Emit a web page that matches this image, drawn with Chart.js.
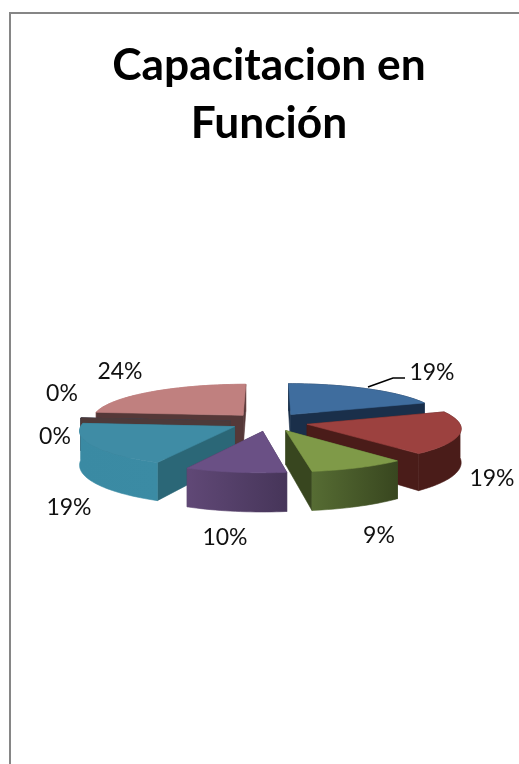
<!DOCTYPE html>
<html>
<head>
<meta charset="utf-8">
<title>Capacitacion en Función</title>
<script src="https://cdn.jsdelivr.net/npm/chart.js@4"></script>
<style>
  html, body { margin: 0; padding: 0; background: #fff; overflow: hidden; }
  #wrap { position: relative; width: 519px; height: 764px; }
  #frame { position: absolute; left: 9px; top: 12px; right: 0; bottom: 0; border-left: 2px solid #868686; border-top: 2px solid #868686; }
  #mychart { position: absolute; left: 0; top: 0; }
</style>
</head>
<body>
<div id="wrap">
  <div id="frame"></div>
  <canvas id="mychart" width="519" height="764"></canvas>
</div>
<script>
var titleLines = ['Capacitacion en', 'Función']
var categories = ['1', '2', '3', '4', '5', '6', '7', '8']
var values = [19.3, 19.2, 9.2, 9.6, 19.1, 0, 0, 23.6]

// colores: cara superior, pared radial, pared exterior (izq, der)
var topColors = ['#3F6D9E', '#9C413F', '#7F9A48', '#6A5085', '#3F8CA5', '#34455F', '#4D3A3A', '#C0807F']
var wallColors = ['#1A2F4A', '#4A1C19', '#38461F', '#463559', '#2B6777', '#34455F', '#4D3A3A', '#553838']
var sideLeft = ['#1A2F4A', '#4A1C19', '#566C33', '#604876', '#3A8AA3', '#34455F', '#4D3A3A', '#C0807F']
var sideRight = ['#1A2F4A', '#4A1C19', '#38461F', '#463559', '#3B8BA4', '#34455F', '#4D3A3A', '#C0807F']

// centro de cada etiqueta
var labelPos = [[432, 373], [492, 479], [379, 536], [225, 538], [69, 508], [55, 437], [62, 394], [120, 372]]
var leaderLine = [[368, 387], [393, 378], [405, 378]]

var squash = 36 / 152
var persp = 0.1

function project(el, u, v) {
    var R = el.outerRadius
    var s = 1 + persp * v
    return [el.x + R * u * s, el.y + R * squash * v * s]
}

function depth(v) {
    return 33 * (1 + 0.15 * v)
}

function poly(ctx, pts, fill) {
    ctx.fillStyle = fill
    ctx.strokeStyle = fill
    ctx.lineWidth = 0.6
    ctx.beginPath()
    pts.forEach(function (p, i) {
        if (i === 0) ctx.moveTo(p[0], p[1])
        else ctx.lineTo(p[0], p[1])
    })
    ctx.closePath()
    ctx.fill()
    ctx.stroke()
}

function band(el, pts) {
    var up = pts.map(function (p) { return project(el, p[0], p[1]) })
    var down = pts.map(function (p, k) { return [up[k][0], up[k][1] + depth(p[1])] })
    return up.concat(down.reverse())
}

function drawSlice(ctx, el, i) {
    var R = el.outerRadius
    var e = el.options.offset / R
    var mid = (el.startAngle + el.endAngle) / 2
    var cu = Math.cos(mid) * e
    var cv = Math.sin(mid) * e
    var apex = [cu, cv]
    var steps = Math.max(1, Math.round((el.endAngle - el.startAngle) / 0.03))
    var rim = []
    var back = []
    var front = []
    for (var k = 0; k <= steps; k++) {
        var a = el.startAngle + (el.endAngle - el.startAngle) * k / steps
        var p = [cu + Math.cos(a), cv + Math.sin(a)]
        rim.push(p)
        if (Math.sin(a) >= 0) front.push(p)
        else back.push(p)
    }

    var xs = rim.map(function (p) { return project(el, p[0], p[1])[0] })
    var grad = ctx.createLinearGradient(Math.min.apply(null, xs), 0, Math.max.apply(null, xs) + 1, 0)
    grad.addColorStop(0, sideLeft[i])
    grad.addColorStop(1, sideRight[i])

    // primero lo de atras, despues las paredes radiales, al final el frente
    if (back.length > 1 && el.endAngle > el.startAngle) poly(ctx, band(el, back), grad)
    var first = [apex, rim[0]]
    var last = [apex, rim[rim.length - 1]]
    if (Math.sin(el.startAngle) > Math.sin(el.endAngle)) {
        poly(ctx, band(el, last), wallColors[i])
        poly(ctx, band(el, first), wallColors[i])
    } else {
        poly(ctx, band(el, first), wallColors[i])
        poly(ctx, band(el, last), wallColors[i])
    }
    if (front.length > 1) poly(ctx, band(el, front), grad)

    var top = [project(el, cu, cv)].concat(rim.map(function (p) { return project(el, p[0], p[1]) }))
    poly(ctx, top, el.options.backgroundColor)
}

// dibuja la torta en 3D a partir de los arcos que calcula Chart.js
var pie3d = {
    id: 'pie3d',
    beforeDatasetDraw: function () { return false },
    afterDatasetsDraw: function (chart) {
        var ctx = chart.ctx
        var arcs = chart.getDatasetMeta(0).data
        var order = arcs.map(function (el, i) { return i })
        order.sort(function (a, b) {
            var ma = (arcs[a].startAngle + arcs[a].endAngle) / 2
            var mb = (arcs[b].startAngle + arcs[b].endAngle) / 2
            return Math.sin(ma) - Math.sin(mb)
        })
        ctx.save()
        order.forEach(function (i) { drawSlice(ctx, arcs[i], i) })

        ctx.strokeStyle = '#000'
        ctx.lineWidth = 1.6
        ctx.beginPath()
        leaderLine.forEach(function (p, i) {
            if (i === 0) ctx.moveTo(p[0], p[1])
            else ctx.lineTo(p[0], p[1])
        })
        ctx.stroke()

        var total = values.reduce(function (a, b) { return a + b }, 0)
        ctx.fillStyle = '#111'
        ctx.font = '23px Lato'
        ctx.textAlign = 'center'
        ctx.textBaseline = 'middle'
        values.forEach(function (val, i) {
            ctx.fillText(Math.round(val / total * 100) + '%', labelPos[i][0], labelPos[i][1])
        })
        ctx.restore()
    }
}

var ctx = document.getElementById('mychart').getContext('2d')
var piechart = new Chart(ctx, {
    type: 'pie',
    data: {
        labels: categories,
        datasets: [{
            data: values,
            backgroundColor: topColors,
            borderWidth: 0,
            offset: 39
        }]
    },
    options: {
        responsive: false,
        animation: false,
        radius: 152,
        layout: { padding: { left: 19, top: 0, bottom: 73 } },
        plugins: {
            legend: { display: false },
            tooltip: { enabled: false },
            title: {
                display: true,
                text: titleLines,
                color: '#000',
                font: { family: 'Lato', weight: 'bold', size: 44.3, lineHeight: 58 / 44.3 },
                padding: { top: 37, bottom: 0 }
            }
        }
    },
    plugins: [pie3d]
})
</script>
</body>
</html>
